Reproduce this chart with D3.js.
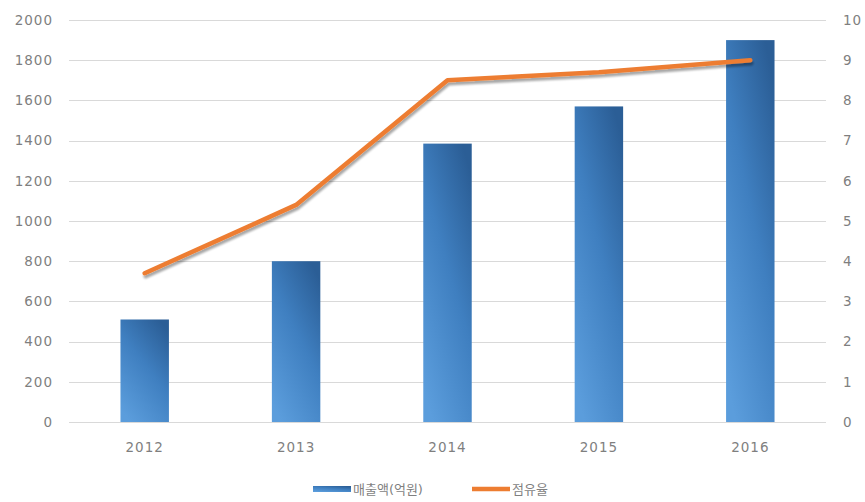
<!DOCTYPE html>
<html>
<head>
<meta charset="utf-8">
<script src="https://cdn.jsdelivr.net/npm/d3@7"></script>
<style>
  html, body { margin: 0; padding: 0; background: #fff; }
  svg { display: block; }
  text { font-family: "DejaVu Sans", "Noto Sans CJK KR", sans-serif; fill: #7f7f7f; }
</style>
</head>
<body>
<svg id="chart" width="865" height="502"></svg>
<script>
// Years on the category axis
const years = ["2012", "2013", "2014", "2015", "2016"];
// 매출액 (억원) — bars on the left axis
const sales = [510, 800, 1385, 1570, 1900];
// 점유율 — line on the right axis
const share = [3.7, 5.4, 8.5, 8.7, 9.0];
// Axis ticks
const leftTicks = [0, 200, 400, 600, 800, 1000, 1200, 1400, 1600, 1800, 2000];
const rightTicks = [0, 1, 2, 3, 4, 5, 6, 7, 8, 9, 10];
// Legend entries
const legendLabels = ["매출액(억원)", "점유율"];

const svg = d3.select("#chart");
const plot = { left: 69, right: 826, top: 20, bottom: 422 };

const x = d3.scaleBand().domain(years).range([plot.left, plot.right]).paddingInner(0.68).paddingOuter(0.34);
const yL = d3.scaleLinear().domain([0, 2000]).range([plot.bottom, plot.top]);
const yR = d3.scaleLinear().domain([0, 10]).range([plot.bottom, plot.top]);

const defs = svg.append("defs");
const grad = defs.append("linearGradient").attr("id", "barGrad")
  .attr("x1", "0.2").attr("y1", "1").attr("x2", "0.8").attr("y2", "0");
grad.append("stop").attr("offset", "0%").attr("stop-color", "#5b9ddc");
grad.append("stop").attr("offset", "55%").attr("stop-color", "#3f7fc0");
grad.append("stop").attr("offset", "100%").attr("stop-color", "#2b5e96");

const shadow = defs.append("filter").attr("id", "lineShadow")
  .attr("x", "-5%").attr("y", "-20%").attr("width", "110%").attr("height", "160%");
shadow.append("feGaussianBlur").attr("in", "SourceAlpha").attr("stdDeviation", 1.2).attr("result", "b");
shadow.append("feOffset").attr("in", "b").attr("dx", 1).attr("dy", 3).attr("result", "o");
shadow.append("feComponentTransfer").attr("in", "o").attr("result", "s")
  .append("feFuncA").attr("type", "linear").attr("slope", 0.35);
const merge = shadow.append("feMerge");
merge.append("feMergeNode").attr("in", "s");
merge.append("feMergeNode").attr("in", "SourceGraphic");

// Horizontal gridlines
svg.append("g").selectAll("line").data(leftTicks).join("line")
  .attr("x1", plot.left).attr("x2", plot.right)
  .attr("y1", d => Math.round(yL(d)) + 0.5).attr("y2", d => Math.round(yL(d)) + 0.5)
  .attr("stroke", "#d9d9d9").attr("stroke-width", 1);

// Left axis labels
svg.append("g").attr("transform", `translate(${plot.left},0)`)
  .call(d3.axisLeft(yL).tickValues(leftTicks).tickFormat(d3.format("d")).tickSize(0).tickPadding(16))
  .call(g => g.select(".domain").remove())
  .selectAll("text").style("font-size", "13.5px").style("letter-spacing", "1px")
  .attr("fill", "#7f7f7f");

// Right axis labels
svg.append("g").attr("transform", `translate(${plot.right},0)`)
  .call(d3.axisRight(yR).tickValues(rightTicks).tickFormat(d3.format("d")).tickSize(0).tickPadding(17))
  .call(g => g.select(".domain").remove())
  .selectAll("text").style("font-size", "13.5px").style("letter-spacing", "1px")
  .attr("fill", "#7f7f7f");

// Category axis labels
svg.append("g").attr("transform", `translate(0,${plot.bottom})`)
  .call(d3.axisBottom(x).tickSize(0).tickPadding(20))
  .call(g => g.select(".domain").remove())
  .selectAll("text").style("font-size", "13.5px").style("letter-spacing", "1px")
  .attr("fill", "#7f7f7f");

// Bars
svg.append("g").selectAll("rect").data(sales).join("rect")
  .attr("x", (d, i) => x(years[i]))
  .attr("width", x.bandwidth())
  .attr("y", d => yL(d))
  .attr("height", d => yL(0) - yL(d))
  .attr("fill", "url(#barGrad)");

// Share line
const line = d3.line()
  .x((d, i) => x(years[i]) + x.bandwidth() / 2)
  .y(d => yR(d));
svg.append("path").datum(share)
  .attr("d", line)
  .attr("fill", "none")
  .attr("stroke", "#ed7d31")
  .attr("stroke-width", 4.5)
  .attr("stroke-linejoin", "round")
  .attr("stroke-linecap", "round")
  .attr("filter", "url(#lineShadow)");

// Legend
const legend = svg.append("g").attr("transform", "translate(0,489)");
legend.append("rect").attr("x", 313).attr("y", -3).attr("width", 38).attr("height", 6).attr("fill", "url(#barGrad)");
legend.append("text").attr("x", 353).attr("y", 5).style("font-size", "13px").text(legendLabels[0]);
legend.append("line").attr("x1", 472).attr("x2", 510).attr("y1", 0).attr("y2", 0)
  .attr("stroke", "#ed7d31").attr("stroke-width", 4.5);
legend.append("text").attr("x", 512).attr("y", 5).style("font-size", "13px").text(legendLabels[1]);
</script>
</body>
</html>
